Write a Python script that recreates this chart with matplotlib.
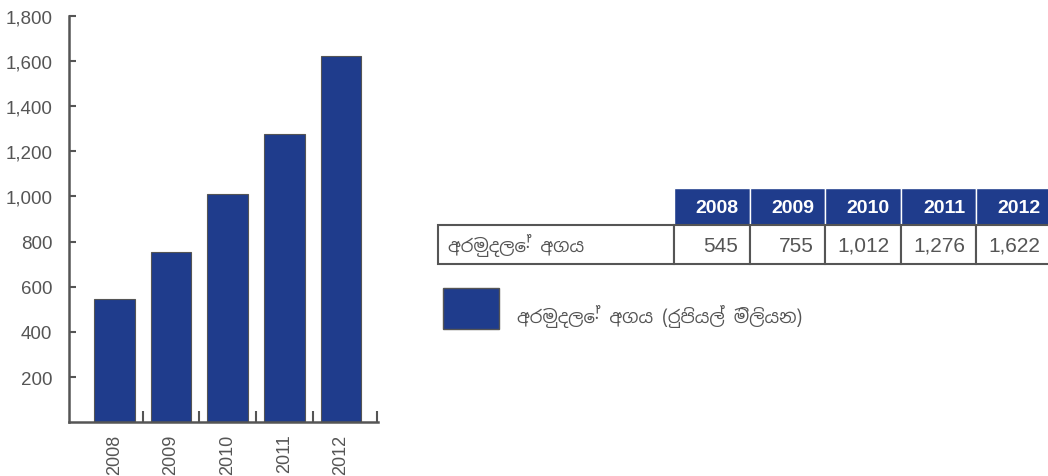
import matplotlib
matplotlib.use("Agg")
import matplotlib.pyplot as plt
from matplotlib.patches import Rectangle
import numpy as np

years = ["2008", "2009", "2010", "2011", "2012"]
fund_value = [545, 755, 1012, 1276, 1622]
row_label = "අරමුදලේ අගය"
legend_label = "අරමුදලේ අගය (රුපියල් මිලියන)"
yticks = [200, 400, 600, 800, 1000, 1200, 1400, 1600, 1800]

BLUE = "#1f3c8c"
GREY = "#555555"
SINHALA = ["Noto Sans Sinhala", "Yaldevi Colombo", "DejaVu Sans"]
plt.rcParams["font.family"] = ["Liberation Sans", "DejaVu Sans"]

fig = plt.figure(figsize=(10.48, 4.77), dpi=100)

# bar chart on the left
ax = fig.add_axes([69 / 1048, 1 - 423.3 / 477, 309 / 1048, 406.8 / 477])
x = np.arange(len(years))
ax.bar(x, fund_value, width=0.72, color=BLUE, edgecolor=GREY, linewidth=0.8)
ax.set_xlim(-0.8, 4.655)
ax.set_ylim(0, 1800)
ax.set_yticks(yticks)
ax.set_yticklabels([f"{v:,}" for v in yticks])
ax.set_xticks(x)
ax.set_xticklabels(years, rotation=90)
ax.set_xticks([0.5, 1.5, 2.5, 3.5, 4.64], minor=True)
ax.tick_params(axis="x", which="major", length=0, pad=8, labelsize=13, labelcolor=GREY)
ax.tick_params(axis="x", which="minor", direction="in", length=8, width=1.5, color=GREY)
ax.tick_params(axis="y", direction="in", length=5, width=1.5, color=GREY,
               pad=12, labelsize=13.5, labelcolor=GREY)
for s in ["top", "right"]:
    ax.spines[s].set_visible(False)
for s in ["left", "bottom"]:
    ax.spines[s].set_color(GREY)
    ax.spines[s].set_linewidth(1.8)

# table and legend drawn on an overlay in pixel units
ov = fig.add_axes([0, 0, 1, 1])
ov.set_xlim(0, 1048)
ov.set_ylim(477, 0)
ov.axis("off")

tx0, label_w, col_w = 438, 236, 75.5
head_y, head_h, row_h = 189, 37, 39
row_y = head_y + head_h

ov.add_patch(Rectangle((tx0, row_y), label_w, row_h, facecolor="white",
                       edgecolor=GREY, linewidth=1.5))
ov.text(tx0 + 10, row_y + row_h / 2, row_label, ha="left", va="center",
        fontsize=13, color=GREY, family=SINHALA)

for i, (yr, val) in enumerate(zip(years, fund_value)):
    cx = tx0 + label_w + i * col_w
    ov.add_patch(Rectangle((cx, head_y), col_w, head_h, facecolor=BLUE,
                           edgecolor="white", linewidth=1))
    ov.text(cx + col_w - 11, head_y + head_h / 2 + 1, yr, ha="right", va="center",
            fontsize=14, fontweight="bold", color="white")
    ov.add_patch(Rectangle((cx, row_y), col_w, row_h, facecolor="white",
                           edgecolor=GREY, linewidth=1.5))
    ov.text(cx + col_w - 11, row_y + row_h / 2 + 1, f"{val:,}", ha="right",
            va="center", fontsize=15, color=GREY)

# legend
ov.add_patch(Rectangle((443, 289), 56, 41, facecolor=BLUE, edgecolor=GREY, linewidth=1))
ov.text(517, 317, legend_label, ha="left", va="center", fontsize=13, color=GREY,
        family=SINHALA)

fig.savefig("out.png", dpi=100)
